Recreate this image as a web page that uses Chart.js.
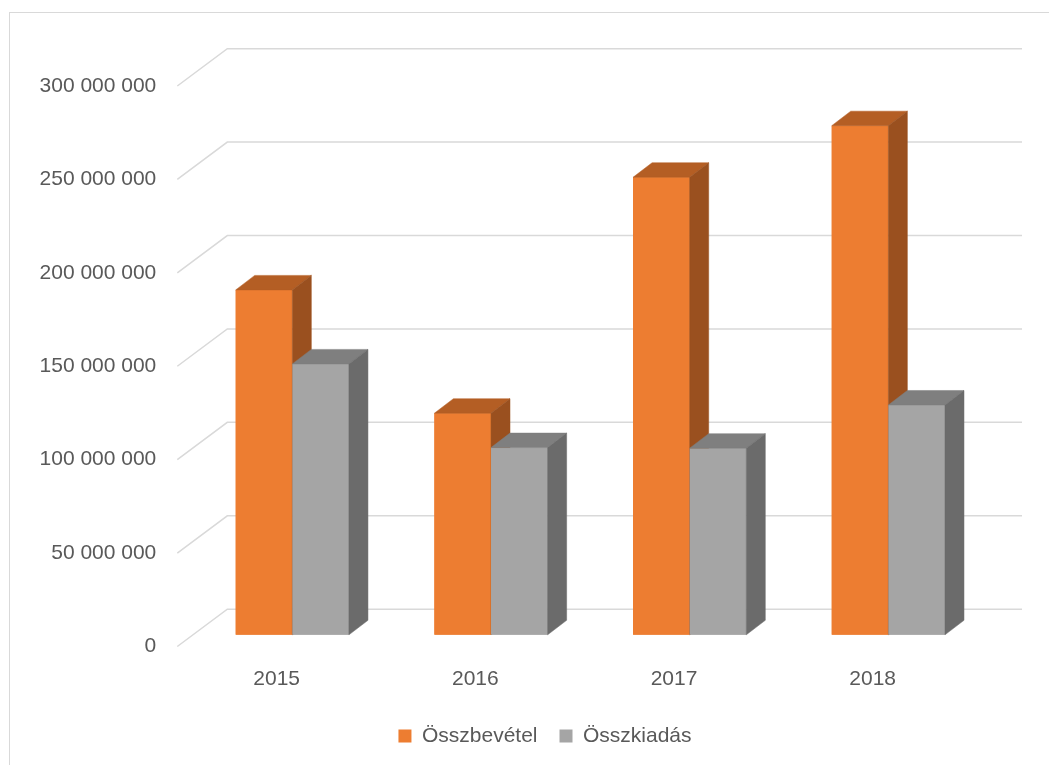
<!DOCTYPE html>
<html><head><meta charset="utf-8">
<script src="https://cdn.jsdelivr.net/npm/chart.js@4.4.1/dist/chart.umd.min.js"></script>
<style>html,body{margin:0;padding:0;background:#fff;overflow:hidden}</style>
</head><body>
<canvas id="c" width="1049" height="765"></canvas>
<script>
const categories = ['2015', '2016', '2017', '2018'];
const revenue = [184600000, 118600000, 244900000, 272500000];
const expenses = [145000000, 100200000, 99900000, 123000000];
const yTicks = [0, 50000000, 100000000, 150000000, 200000000, 250000000, 300000000];
const seriesNames = ['Összbevétel', 'Összkiadás'];

const FONT = '"Liberation Sans", Arial, sans-serif';
const TXT = '#595959';
const D = {fx: 15.7, fy: -11.7, bx: 19, by: -14.5, gx: 50, gy: -37.3};
const shade = [
  {front: '#ED7D31', top: '#B45E24', side: '#9A501F'},
  {front: '#A5A5A5', top: '#7F7F7F', side: '#6B6B6B'}
];
const fmt = v => String(v).replace(/\B(?=(\d{3})+(?!\d))/g, ' ');

const threeD = {
  id: 'threeD',
  beforeDraw(chart) {
    const ctx = chart.ctx;
    ctx.save();
    ctx.strokeStyle = '#D9D9D9';
    ctx.lineWidth = 1;
    ctx.strokeRect(9.5, 12.5, 1100, 800);
    ctx.restore();
  },
  beforeDatasetsDraw(chart) {
    const {ctx, chartArea: a, scales: {y}} = chart;
    ctx.save();
    ctx.strokeStyle = '#D9D9D9';
    ctx.lineWidth = 1.5;
    y.ticks.forEach(t => {
      const py = y.getPixelForValue(t.value);
      ctx.beginPath();
      ctx.moveTo(a.left, py);
      ctx.lineTo(a.left + D.gx, py + D.gy);
      ctx.lineTo(a.right + D.gx, py + D.gy);
      ctx.stroke();
    });
    ctx.restore();
    ctx.save();
    ctx.translate(D.fx, D.fy);
  },
  afterDatasetsDraw(chart) {
    const ctx = chart.ctx;
    const metas = [chart.getDatasetMeta(0), chart.getDatasetMeta(1)];
    for (let i = 0; i < categories.length; i++) {
      metas.forEach((m, di) => {
        const el = m.data[i];
        const {x, y, base, width} = el.getProps(['x', 'y', 'base', 'width'], true);
        const l = x - width / 2, r = x + width / 2;
        el.draw(ctx);
        ctx.fillStyle = shade[di].top;
        ctx.strokeStyle = shade[di].top;
        ctx.lineWidth = 0.5;
        ctx.beginPath();
        ctx.moveTo(l, y); ctx.lineTo(r, y);
        ctx.lineTo(r + D.bx, y + D.by); ctx.lineTo(l + D.bx, y + D.by);
        ctx.closePath(); ctx.fill(); ctx.stroke();
        ctx.fillStyle = shade[di].side;
        ctx.strokeStyle = shade[di].side;
        ctx.beginPath();
        ctx.moveTo(r, y); ctx.lineTo(r + D.bx, y + D.by);
        ctx.lineTo(r + D.bx, base + D.by); ctx.lineTo(r, base);
        ctx.closePath(); ctx.fill(); ctx.stroke();
      });
    }
    ctx.restore();
  }
};

new Chart(document.getElementById('c'), {
  type: 'bar',
  data: {
    labels: categories,
    datasets: [
      {label: seriesNames[0], data: revenue, backgroundColor: shade[0].front, borderWidth: 0},
      {label: seriesNames[1], data: expenses, backgroundColor: shade[1].front, borderWidth: 0}
    ]
  },
  options: {
    responsive: false,
    animation: false,
    events: [],
    layout: {padding: {left: 41, right: 0, top: 86, bottom: 8.5}},
    datasets: {bar: {categoryPercentage: 0.570, barPercentage: 1}},
    scales: {
      x: {
        grid: {display: false},
        border: {display: false},
        ticks: {color: TXT, font: {family: FONT, size: 21}, padding: 12, maxRotation: 0},
        afterFit: s => { s.height = 57; }
      },
      y: {
        min: 0, max: 300000000,
        grid: {display: false},
        border: {display: false},
        afterBuildTicks: s => { s.ticks = yTicks.map(v => ({value: v})); },
        ticks: {color: TXT, font: {family: FONT, size: 21}, padding: 13, callback: v => fmt(v)},
        afterFit: s => { s.width = 136.3; s._computeLabelArea = () => undefined; }
      },
      y2: {
        position: 'right',
        display: true,
        grid: {display: false},
        border: {display: false},
        ticks: {display: false},
        afterFit: s => { s.width = 77; }
      }
    },
    plugins: {
      tooltip: {enabled: false},
      legend: {
        position: 'bottom',
        labels: {boxWidth: 13, boxHeight: 13, padding: 22, color: TXT, font: {family: FONT, size: 21}}
      }
    }
  },
  plugins: [threeD]
});
</script>
</body></html>
